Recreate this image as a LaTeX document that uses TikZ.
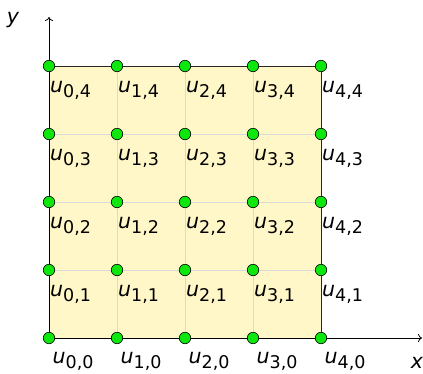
\documentclass[tikz,border=0pt]{standalone}
\usepackage{fontspec}
\setmainfont{DejaVu Sans}
\usetikzlibrary{arrows.meta}
\definecolor{cellcol}{RGB}{255,247,199}
\begin{document}
\begin{tikzpicture}[x=1pt,y=-1pt,
  cellfill/.style={fill=cellcol},
  gridline/.style={draw=black!15,line width=0.7pt},
  axisline/.style={draw=black,line width=0.8pt,-{To[length=4pt,width=8pt]}},
  borderline/.style={draw=black!85,line width=0.8pt},
  gdot/.style={circle,fill=green!90!black!95,draw=black,line width=0.6pt,inner sep=0pt,minimum size=11.5pt},
  ulabel/.style={anchor=base west,inner sep=0pt,font=\fontsize{20.5}{24}\selectfont},
  axlabel/.style={inner sep=0pt,font=\fontsize{20.5}{24}\selectfont\itshape}]
\useasboundingbox (0,0) rectangle (423,373);
\newcommand\ulab[2]{\textit{u}\raisebox{-5pt}{\fontsize{17.5}{20}\selectfont #1,#2}}
\fill[cellfill] (49,66) rectangle (321,338);
\foreach \i in {1,2,3} {
  \draw[gridline] (49+68*\i,66) -- (49+68*\i,338);
  \draw[gridline] (49,66+68*\i) -- (321,66+68*\i);
}
\draw[borderline] (49,66) -- (321,66) -- (321,338);
\coordinate (xend) at (422,338);
\coordinate (yend) at (49,17);
\coordinate (orig) at (49,338);
\draw[axisline] (orig) -- (xend);
\draw[axisline] (orig) -- (yend);
\node[axlabel] (ylab) at (13,20) {y};
\node[axlabel] (xlab) at (417,363) {x};
\foreach \i in {0,...,4} {
  \foreach \j in {0,...,4} {
    \node[gdot] (p\i\j) at (49+68*\i,338-68*\j) {};
  }
}
\foreach \i in {0,...,4} {
  \node[ulabel] (l\i0) at (52.5+68*\i,363.5) {\ulab{\i}{0}};
  \foreach \j in {1,...,4} {
    \node[ulabel] (l\i\j) at (50+68*\i,364-68*\j) {\ulab{\i}{\j}};
  }
}
\end{tikzpicture}
\end{document}
